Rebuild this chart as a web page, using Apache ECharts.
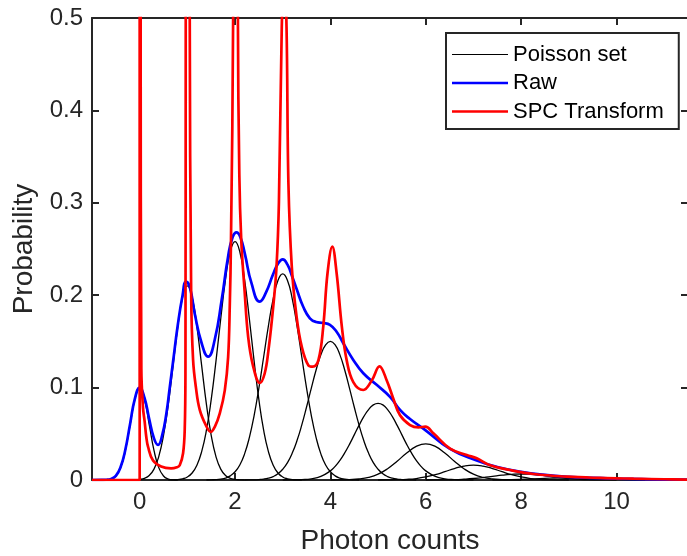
<!DOCTYPE html>
<html><head><meta charset="utf-8">
<script src="https://cdn.jsdelivr.net/npm/echarts@6/dist/echarts.min.js"></script>
<style>html,body{margin:0;padding:0;background:#fff}#c{width:687px;height:556px}</style>
</head><body><div id="c"></div><script>
const xTicks = [0, 2, 4, 6, 8, 10];
const yTicks = [0, 0.1, 0.2, 0.3, 0.4, 0.5];

const poisson0 = [[-0.8,0],[-0.7,0.0002],[-0.6,0.0011],[-0.5,0.0043],[-0.4,0.0134],[-0.3,0.0321],[-0.2,0.0600],[-0.1,0.0874],[0,0.099],[0.1,0.0874],[0.2,0.0600],[0.3,0.0321],[0.4,0.0134],[0.5,0.0043],[0.6,0.0011],[0.7,0.0002],[0.8,0]];
const poisson1 = [[-0.2,0],[-0.1,0.0002],[0,0.0006],[0.1,0.0018],[0.2,0.0049],[0.3,0.0118],[0.4,0.0253],[0.5,0.0483],[0.6,0.0819],[0.7,0.1237],[0.8,0.1660],[0.9,0.1980],[1,0.21],[1.1,0.1980],[1.2,0.1660],[1.3,0.1237],[1.4,0.0819],[1.5,0.0483],[1.6,0.0253],[1.7,0.0118],[1.8,0.0049],[1.9,0.0018],[2,0.0006],[2.1,0.0002],[2.2,0]];
const poisson2 = [[0.6,0],[0.7,0.0002],[0.8,0.0005],[0.9,0.0013],[1,0.0033],[1.1,0.0076],[1.2,0.0160],[1.3,0.0307],[1.4,0.0539],[1.5,0.0870],[1.6,0.1287],[1.7,0.1745],[1.8,0.2168],[1.9,0.2470],[2,0.258],[2.1,0.2470],[2.2,0.2168],[2.3,0.1745],[2.4,0.1287],[2.5,0.0870],[2.6,0.0539],[2.7,0.0307],[2.8,0.0160],[2.9,0.0076],[3,0.0033],[3.1,0.0013],[3.2,0.0005],[3.3,0.0002],[3.4,0]];
const poisson3 = [[1.4,0],[1.5,0.0002],[1.6,0.0004],[1.7,0.0010],[1.8,0.0021],[1.9,0.0045],[2,0.0089],[2.1,0.0163],[2.2,0.0283],[2.3,0.0459],[2.4,0.0698],[2.5,0.0995],[2.6,0.1331],[2.7,0.1668],[2.8,0.1960],[2.9,0.2159],[3,0.223],[3.1,0.2159],[3.2,0.1960],[3.3,0.1668],[3.4,0.1331],[3.5,0.0995],[3.6,0.0698],[3.7,0.0459],[3.8,0.0283],[3.9,0.0163],[4,0.0089],[4.1,0.0045],[4.2,0.0021],[4.3,0.0010],[4.4,0.0004],[4.5,0.0002],[4.6,0]];
const poisson4 = [[2.2,0],[2.3,0.0001],[2.4,0.0002],[2.5,0.0005],[2.6,0.0010],[2.7,0.0020],[2.8,0.0037],[2.9,0.0067],[3,0.0116],[3.1,0.0188],[3.2,0.0291],[3.3,0.0427],[3.4,0.0596],[3.5,0.0790],[3.6,0.0995],[3.7,0.1191],[3.8,0.1354],[3.9,0.1462],[4,0.150],[4.1,0.1462],[4.2,0.1354],[4.3,0.1191],[4.4,0.0995],[4.5,0.0790],[4.6,0.0596],[4.7,0.0427],[4.8,0.0291],[4.9,0.0188],[5,0.0116],[5.1,0.0067],[5.2,0.0037],[5.3,0.0020],[5.4,0.0010],[5.5,0.0005],[5.6,0.0002],[5.7,0.0001],[5.8,0]];
const poisson5 = [[3,0],[3.2,0.0001],[3.4,0.0004],[3.6,0.0013],[3.8,0.0039],[4,0.0099],[4.1,0.0148],[4.2,0.0213],[4.3,0.0293],[4.4,0.0386],[4.5,0.0488],[4.6,0.0591],[4.7,0.0685],[4.8,0.0762],[4.9,0.0813],[5,0.083],[5.1,0.0813],[5.2,0.0762],[5.3,0.0685],[5.4,0.0591],[5.5,0.0488],[5.6,0.0386],[5.7,0.0293],[5.8,0.0213],[5.9,0.0148],[6,0.0099],[6.2,0.0039],[6.4,0.0013],[6.6,0.0004],[6.8,0.0001],[7,0]];
const poisson6 = [[4,0],[4.2,0.0001],[4.4,0.0004],[4.6,0.0011],[4.8,0.0028],[5,0.0063],[5.2,0.0122],[5.4,0.0203],[5.6,0.0292],[5.8,0.0363],[6,0.039],[6.2,0.0363],[6.4,0.0292],[6.6,0.0203],[6.8,0.0122],[7,0.0063],[7.2,0.0028],[7.4,0.0011],[7.6,0.0004],[7.8,0.0001],[8,0]];
const poisson7 = [[5,0],[5.2,0.0001],[5.4,0.0003],[5.6,0.0007],[5.8,0.0016],[6,0.0033],[6.2,0.0058],[6.4,0.0090],[6.6,0.0124],[6.8,0.0150],[7,0.016],[7.2,0.0150],[7.4,0.0124],[7.6,0.0090],[7.8,0.0058],[8,0.0033],[8.2,0.0016],[8.4,0.0007],[8.6,0.0003],[8.8,0.0001],[9,0]];
const poisson8 = [[6,0],[6.2,0.0001],[6.4,0.0002],[6.6,0.0004],[6.8,0.0009],[7,0.0016],[7.2,0.0026],[7.4,0.0039],[7.6,0.0052],[7.8,0.0061],[8,0.0065],[8.2,0.0061],[8.4,0.0052],[8.6,0.0039],[8.8,0.0026],[9,0.0016],[9.2,0.0009],[9.4,0.0004],[9.6,0.0002],[9.8,0.0001],[10,0]];
const poisson9 = [[7.4,0],[7.8,0.0004],[8.2,0.0011],[8.6,0.0020],[9,0.0024],[9.4,0.0020],[9.8,0.0011],[10.2,0.0004],[10.6,0]];

const raw = [[-1,0],[-0.8,0.0001],[-0.7,0.0003],[-0.6,0.0012],[-0.5,0.0045],[-0.4,0.014],[-0.3,0.033],[-0.2,0.061],[-0.1,0.088],[0,0.100],[0.1,0.089],[0.2,0.066],[0.3,0.045],[0.385,0.038],[0.47,0.048],[0.56,0.072],[0.63,0.100],[0.7,0.128],[0.8,0.168],[0.9,0.200],[0.97,0.2146],[1.05,0.209],[1.155,0.180],[1.3,0.148],[1.435,0.1335],[1.575,0.152],[1.72,0.195],[1.855,0.242],[1.95,0.263],[2.03,0.268],[2.11,0.263],[2.205,0.245],[2.345,0.213],[2.52,0.193],[2.65,0.203],[2.8,0.223],[2.9,0.234],[3.0,0.2388],[3.1,0.233],[3.2,0.220],[3.29,0.207],[3.43,0.1875],[3.57,0.175],[3.7,0.171],[3.85,0.170],[3.99,0.168],[4.13,0.1605],[4.27,0.148],[4.48,0.130],[4.69,0.1155],[4.97,0.103],[5.25,0.090],[5.46,0.0758],[5.67,0.066],[5.99,0.054],[6.5,0.034],[7.07,0.021],[7.5,0.014],[8,0.0088],[8.5,0.0055],[9,0.0034],[9.5,0.0022],[10,0.0014],[10.5,0.0009],[11,0.0005],[11.5,0.0003]];

const spc = [[-1,0],[0,0],[0,2],[0.012,2],[0.02,0.5],[0.035,0.12],[0.07,0.078],[0.105,0.063],[0.14,0.046],[0.175,0.036],[0.28,0.021],[0.45,0.0145],[0.66,0.0126],[0.78,0.0138],[0.84,0.016],[0.91,0.029],[0.945,0.055],[0.96,0.12],[0.966,0.5],[0.99,1.4],[1.02,1.4],[1.05,0.5],[1.08,0.2],[1.12,0.13],[1.18,0.10],[1.26,0.076],[1.40,0.058],[1.49,0.052],[1.58,0.058],[1.68,0.072],[1.785,0.097],[1.855,0.133],[1.89,0.19],[1.915,0.26],[1.96,0.5],[1.99,1.2],[2.03,1.2],[2.06,0.5],[2.09,0.33],[2.13,0.26],[2.2,0.205],[2.275,0.155],[2.38,0.123],[2.52,0.105],[2.62,0.115],[2.7,0.14],[2.8,0.187],[2.87,0.231],[2.92,0.3],[2.98,0.49],[3.03,0.56],[3.08,0.49],[3.12,0.32],[3.19,0.231],[3.29,0.177],[3.40,0.144],[3.54,0.124],[3.63,0.1227],[3.75,0.13],[3.85,0.166],[3.94,0.224],[4.04,0.2525],[4.13,0.224],[4.24,0.166],[4.34,0.13],[4.48,0.106],[4.69,0.0974],[4.87,0.108],[5.03,0.123],[5.18,0.108],[5.32,0.088],[5.46,0.07],[5.67,0.0595],[5.85,0.057],[5.99,0.0577],[6.16,0.0505],[6.51,0.034],[6.86,0.027],[7.07,0.0235],[7.35,0.016],[7.77,0.0108],[8.26,0.0065],[8.96,0.0036],[9.66,0.0022],[10.36,0.0014],[11,0.0008],[11.5,0.0005]];

const poissonSets = [poisson0, poisson1, poisson2, poisson3, poisson4, poisson5, poisson6, poisson7, poisson8, poisson9];

const FONT = 'Liberation Sans, Arial, Helvetica, sans-serif';
const AX = '#262626';

const series = poissonSets.map(d => ({
  name: 'Poisson set', type: 'line', data: d, smooth: true, symbol: 'none',
  lineStyle: { color: '#000000', width: 1.3 }, itemStyle: { color: '#000000' }, z: 2
}));
series.push({
  name: 'Raw', type: 'line', data: raw, smooth: 0.5, symbol: 'none',
  lineStyle: { color: '#0000ff', width: 2.7 }, itemStyle: { color: '#0000ff' }, z: 3
});
series.push({
  name: 'SPC Transform', type: 'line', data: spc, smooth: 0.4, symbol: 'none',
  lineStyle: { color: '#ff0000', width: 2.7 }, itemStyle: { color: '#ff0000' }, z: 4
});

// legend icons: thin horizontal bars inside a 56x14 bounding box
const thinIcon = 'path://M0,0L0.01,0L0.01,0.01L0,0.01ZM0,6.4L56,6.4L56,7.6L0,7.6ZM0,13.99L0.01,13.99L0.01,14L0,14Z';
const thickIcon = 'path://M0,0L0.01,0L0.01,0.01L0,0.01ZM0,5.7L56,5.7L56,8.3L0,8.3ZM0,13.99L0.01,13.99L0.01,14L0,14Z';

const chart = echarts.init(document.getElementById('c'), null, { renderer: 'canvas' });
chart.setOption({
  animation: false,
  backgroundColor: '#ffffff',
  grid: { left: 92, right: -1, top: 18, bottom: 76, outerBoundsMode: 'none', containLabel: false },
  legend: {
    data: [
      { name: 'Poisson set', icon: thinIcon },
      { name: 'Raw', icon: thickIcon },
      { name: 'SPC Transform', icon: thickIcon }
    ],
    orient: 'vertical', left: 446, top: 33,
    itemWidth: 56, itemHeight: 14, itemGap: 6.5,
    padding: [10.5, 15, 6.5, 6],
    borderColor: AX, borderWidth: 2, backgroundColor: '#ffffff',
    textStyle: { fontSize: 22, lineHeight: 22, color: '#000000', fontFamily: FONT },
    selectedMode: false
  },
  xAxis: [{
    type: 'value', min: -1, max: 11.5, position: 'bottom',
    axisLine: { show: true, onZero: false, lineStyle: { color: AX, width: 2 } },
    axisTick: { show: true, inside: true, length: 7, customValues: xTicks, lineStyle: { color: AX, width: 2 } },
    axisLabel: { show: true, customValues: xTicks, fontSize: 24, color: AX, margin: 10, fontFamily: FONT },
    splitLine: { show: false },
    name: 'Photon counts', nameLocation: 'middle', nameGap: 47,
    nameTextStyle: { fontSize: 28, color: AX, fontFamily: FONT }
  }, {
    type: 'value', min: -1, max: 11.5, position: 'top',
    axisLine: { show: true, onZero: false, lineStyle: { color: AX, width: 2 } },
    axisTick: { show: true, inside: true, length: 7, customValues: xTicks, lineStyle: { color: AX, width: 2 } },
    axisLabel: { show: false }, splitLine: { show: false }
  }],
  yAxis: [{
    type: 'value', min: 0, max: 0.5, interval: 0.1, position: 'left',
    axisLine: { show: true, onZero: false, lineStyle: { color: AX, width: 2 } },
    axisTick: { show: true, inside: true, length: 7, lineStyle: { color: AX, width: 2 } },
    axisLabel: { show: true, fontSize: 24, color: AX, margin: 9, fontFamily: FONT,
      formatter: v => String(Math.round(v * 10) / 10) },
    splitLine: { show: false },
    name: 'Probability', nameLocation: 'middle', nameGap: 52, nameRotate: 90,
    nameTextStyle: { fontSize: 28, color: AX, fontFamily: FONT }
  }, {
    type: 'value', min: 0, max: 0.5, interval: 0.1, position: 'right',
    axisLine: { show: true, onZero: false, lineStyle: { color: AX, width: 2 } },
    axisTick: { show: true, inside: true, length: 7, lineStyle: { color: AX, width: 2 } },
    axisLabel: { show: false }, splitLine: { show: false }
  }],
  series: series
});
</script></body></html>
